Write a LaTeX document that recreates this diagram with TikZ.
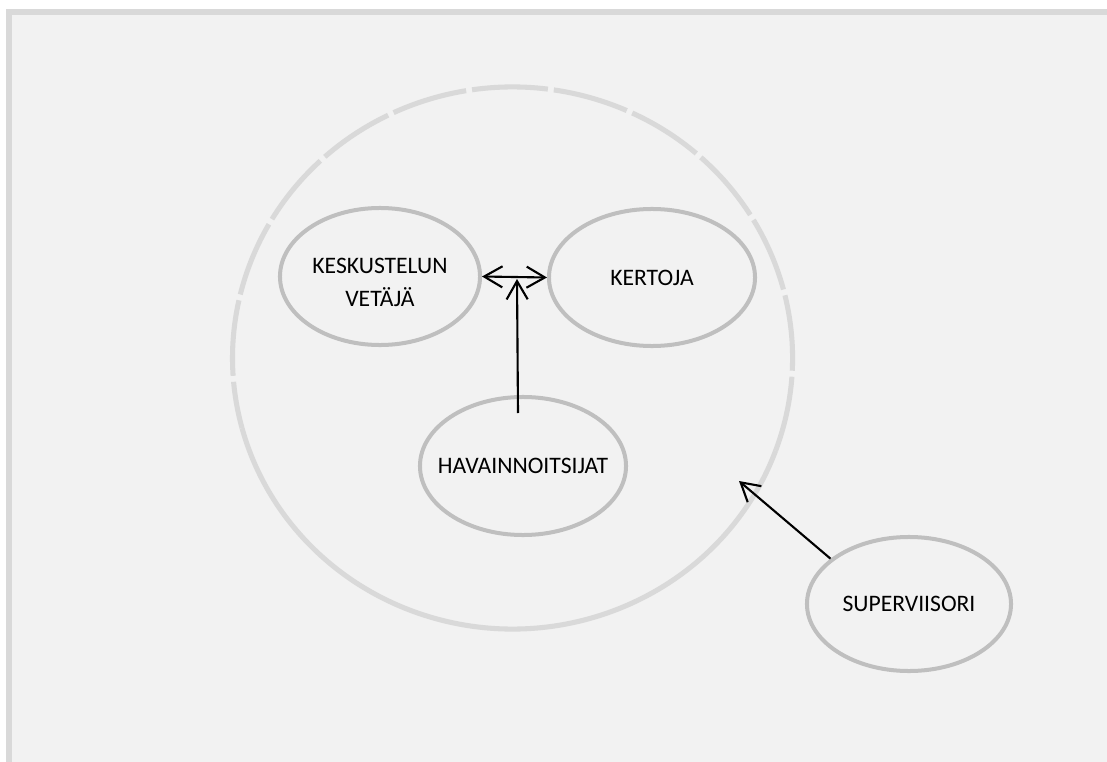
\documentclass[tikz,border=0pt]{standalone}
\usepackage{fontspec}
\setmainfont{Carlito}
\usetikzlibrary{shapes.geometric,arrows.meta}
\definecolor{pagegray}{HTML}{F2F2F2}
\definecolor{framegray}{HTML}{D9D9D9}
\definecolor{bubblegray}{HTML}{BFBFBF}
\tikzset{>={Straight Barb[length=13pt,width=15pt]}}
\begin{document}
\begin{tikzpicture}[x=0.025cm,y=-0.025cm,
	bubble/.style={ellipse,draw=bubblegray,line width=2.85pt,inner sep=0pt,inner xsep=-1cm,align=center,font=\fontsize{16.8pt}{23.5pt}\selectfont},
	link/.style={black,line width=1.5pt},
	ring/.style={draw=framegray,line width=3.6pt}]
	\useasboundingbox (0,0) rectangle (1107,762);
	\fill[white] (0,0) rectangle (1107,762);
	\fill[framegray] (6,9) rectangle (1107,762);
	\fill[pagegray] (12,15) rectangle (1107,762);
	
	% group circle
	\draw[ring] (512.5,358) ++(20:280 and 271) arc[start angle=20,end angle=165,x radius=280,y radius=271];
	\draw[ring,dash pattern=on 1.9cm off .15cm] (512.5,358) ++(20:280 and 271) arc[start angle=20,end angle=-195,x radius=280,y radius=271];
	
	\node[bubble,minimum width=5cm,minimum height=3.425cm] (keskustelun) at (380,276.5){\raisebox{-5pt}[\height][\depth]{\begin{tabular}{@{}c@{}}KESKUSTELUN\\VETÄJÄ\end{tabular}}};
	\node[bubble,minimum width=5.15cm,minimum height=3.425cm] (kertoja) at (652,277.5){KERTOJA};
	\node[bubble,minimum width=5.15cm,minimum height=3.45cm] (havainnoitsijat) at (523,466){HAVAINNOITSIJAT};
	\node[bubble,minimum width=5.1cm,minimum height=3.35cm] (superviisori) at (909,604){SUPERVIISORI};
	
	\coordinate (obs) at (518,413);
	\coordinate (mid) at (517,279);
	\coordinate (tip) at (739,481);
	
	\draw[link,<->] (keskustelun.east) -- (kertoja.west);
	\draw[link,->] (obs) -- (mid);
	\draw[link,->] (superviisori.150) -- (tip);
\end{tikzpicture}
\end{document}
